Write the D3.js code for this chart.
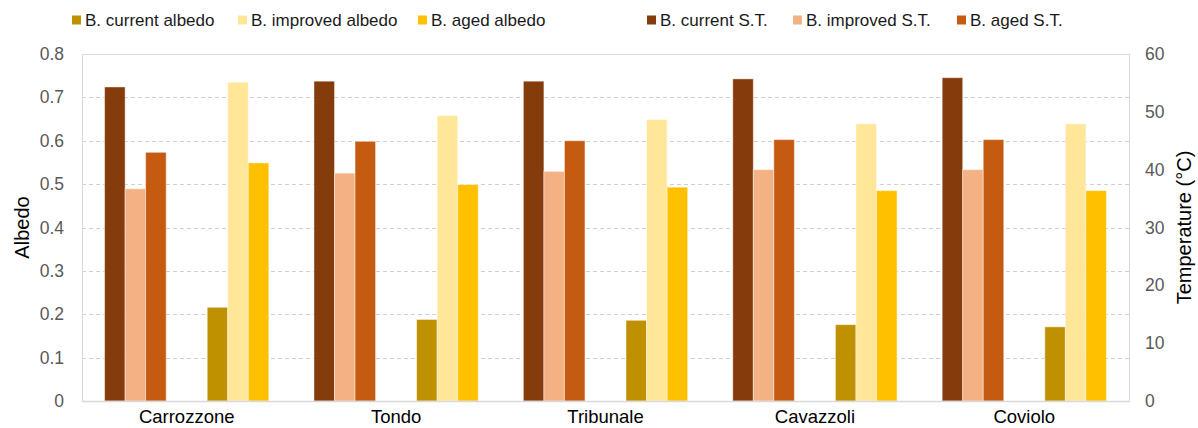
<!DOCTYPE html>
<html>
<head>
<meta charset="utf-8">
<script src="https://cdn.jsdelivr.net/npm/d3@7"></script>
<style>
    body { margin: 0; background: #fff; }
    text { font-family: 'Liberation Sans', Arial, sans-serif; }
</style>
</head>
<body>
<svg width="1198" height="428"></svg>
<script>
// Chart data
var sites = ['Carrozzone', 'Tondo', 'Tribunale', 'Cavazzoli', 'Coviolo'];
var currentAlbedo = [0.216, 0.188, 0.186, 0.176, 0.171];
var improvedAlbedo = [0.735, 0.658, 0.649, 0.639, 0.639];
var agedAlbedo = [0.549, 0.499, 0.493, 0.485, 0.485];
var currentST = [54.3, 55.3, 55.3, 55.7, 55.9];
var improvedST = [36.7, 39.4, 39.7, 40.0, 40.0];
var agedST = [43.0, 44.9, 45.0, 45.2, 45.2];
var albedoTicks = [0, 0.1, 0.2, 0.3, 0.4, 0.5, 0.6, 0.7, 0.8];
var tempTicks = [0, 10, 20, 30, 40, 50, 60];

// Series description: name, values, axis, slot in the cluster, colour
var series = [
    {name: 'B. current albedo', values: currentAlbedo, axis: 'albedo', slot: 's5', color: '#BF9000'},
    {name: 'B. improved albedo', values: improvedAlbedo, axis: 'albedo', slot: 's6', color: '#FFE699'},
    {name: 'B. aged albedo', values: agedAlbedo, axis: 'albedo', slot: 's7', color: '#FFC000'},
    {name: 'B. current S.T.', values: currentST, axis: 'temp', slot: 's0', color: '#843C0C'},
    {name: 'B. improved S.T.', values: improvedST, axis: 'temp', slot: 's1', color: '#F4B183'},
    {name: 'B. aged S.T.', values: agedST, axis: 'temp', slot: 's2', color: '#C55A11'}
];

var svg = d3.select('svg');
var padding = {t: 54, r: 69, b: 27, l: 82};
var chartWidth = 1198 - padding.l - padding.r;
var chartHeight = 428 - padding.t - padding.b;

var chartG = svg.append('g')
    .attr('transform', 'translate(' + [padding.l, padding.t] + ')');

// Scales
var xScale = d3.scaleBand()
    .domain(sites)
    .range([0, chartWidth]);

var slotScale = d3.scaleBand()
    .domain(['s0', 's1', 's2', 's3', 's4', 's5', 's6', 's7'])
    .range([0, xScale.bandwidth()])
    .paddingOuter(1.1);

var yAlbedo = d3.scaleLinear()
    .domain([0, 0.8])
    .range([chartHeight, 0]);

var yTemp = d3.scaleLinear()
    .domain([0, 60])
    .range([chartHeight, 0]);

// Dashed gridlines
chartG.selectAll('.grid')
    .data(albedoTicks.slice(1, -1))
    .enter()
    .append('line')
    .attr('class', 'grid')
    .attr('x1', 0)
    .attr('x2', chartWidth)
    .attr('y1', function(d) { return Math.round(yAlbedo(d)) + 0.5; })
    .attr('y2', function(d) { return Math.round(yAlbedo(d)) + 0.5; })
    .attr('stroke', '#d0d0d0')
    .attr('stroke-dasharray', '4,3');

// Plot frame
chartG.append('rect')
    .attr('x', 0.5)
    .attr('y', 0.5)
    .attr('width', chartWidth)
    .attr('height', chartHeight)
    .attr('fill', 'none')
    .attr('stroke', '#d9d9d9');

// Bars
var groups = chartG.selectAll('.site')
    .data(sites)
    .enter()
    .append('g')
    .attr('class', 'site')
    .attr('transform', function(d) { return 'translate(' + [xScale(d), 0] + ')'; });

series.forEach(function(s) {
    var y = s.axis === 'albedo' ? yAlbedo : yTemp;
    groups.append('rect')
        .attr('x', slotScale(s.slot))
        .attr('width', slotScale.bandwidth())
        .attr('y', function(d, i) { return y(s.values[i]); })
        .attr('height', function(d, i) { return chartHeight - y(s.values[i]); })
        .attr('fill', s.color)
        .attr('stroke', 'rgba(255,255,255,0.45)')
        .attr('stroke-width', 1);
});

// Baseline
chartG.append('line')
    .attr('x1', 0)
    .attr('x2', chartWidth)
    .attr('y1', chartHeight + 0.5)
    .attr('y2', chartHeight + 0.5)
    .attr('stroke', '#d9d9d9')
    .attr('stroke-width', 1.5);

// Axes
var xAxisG = chartG.append('g')
    .attr('transform', 'translate(' + [0, chartHeight] + ')')
    .call(d3.axisBottom(xScale).tickSize(0).tickPadding(9));

var yAxisG = chartG.append('g')
    .call(d3.axisLeft(yAlbedo).tickValues(albedoTicks).tickSize(0).tickPadding(18)
        .tickFormat(function(d) { return d === 0 ? '0' : d3.format('.1f')(d); }));

var y2AxisG = chartG.append('g')
    .attr('transform', 'translate(' + [chartWidth, 0] + ')')
    .call(d3.axisRight(yTemp).tickValues(tempTicks).tickSize(0).tickPadding(16));

[xAxisG, yAxisG, y2AxisG].forEach(function(g) {
    g.select('.domain').remove();
    g.selectAll('text')
        .style('font-family', "'Liberation Sans', Arial, sans-serif")
        .style('font-size', '17.5px');
});
xAxisG.selectAll('text').attr('fill', '#000').style('font-size', '18.5px');
yAxisG.selectAll('text').attr('fill', '#595959');
y2AxisG.selectAll('text').attr('fill', '#595959');

// Axis titles
svg.append('text')
    .attr('transform', 'translate(29,' + (padding.t + chartHeight / 2) + ') rotate(-90)')
    .attr('text-anchor', 'middle')
    .attr('font-size', '20px')
    .attr('fill', '#000')
    .text('Albedo');

svg.append('text')
    .attr('transform', 'translate(1191,' + (padding.t + chartHeight / 2) + ') rotate(-90)')
    .attr('text-anchor', 'middle')
    .attr('font-size', '20px')
    .attr('fill', '#000')
    .text('Temperature (°C)');

// Legend
var legendX = [72, 238, 418, 647, 793, 957];
var legend = svg.selectAll('.legend')
    .data(series)
    .enter()
    .append('g')
    .attr('class', 'legend')
    .attr('transform', function(d, i) { return 'translate(' + [legendX[i], 20] + ')'; });

legend.append('rect')
    .attr('x', 0)
    .attr('y', -4.5)
    .attr('width', 9)
    .attr('height', 9)
    .attr('fill', function(d) { return d.color; });

legend.append('text')
    .attr('x', 13)
    .attr('y', 6)
    .attr('font-size', '17px')
    .attr('fill', '#1a1a1a')
    .text(function(d) { return d.name; });
</script>
</body>
</html>
